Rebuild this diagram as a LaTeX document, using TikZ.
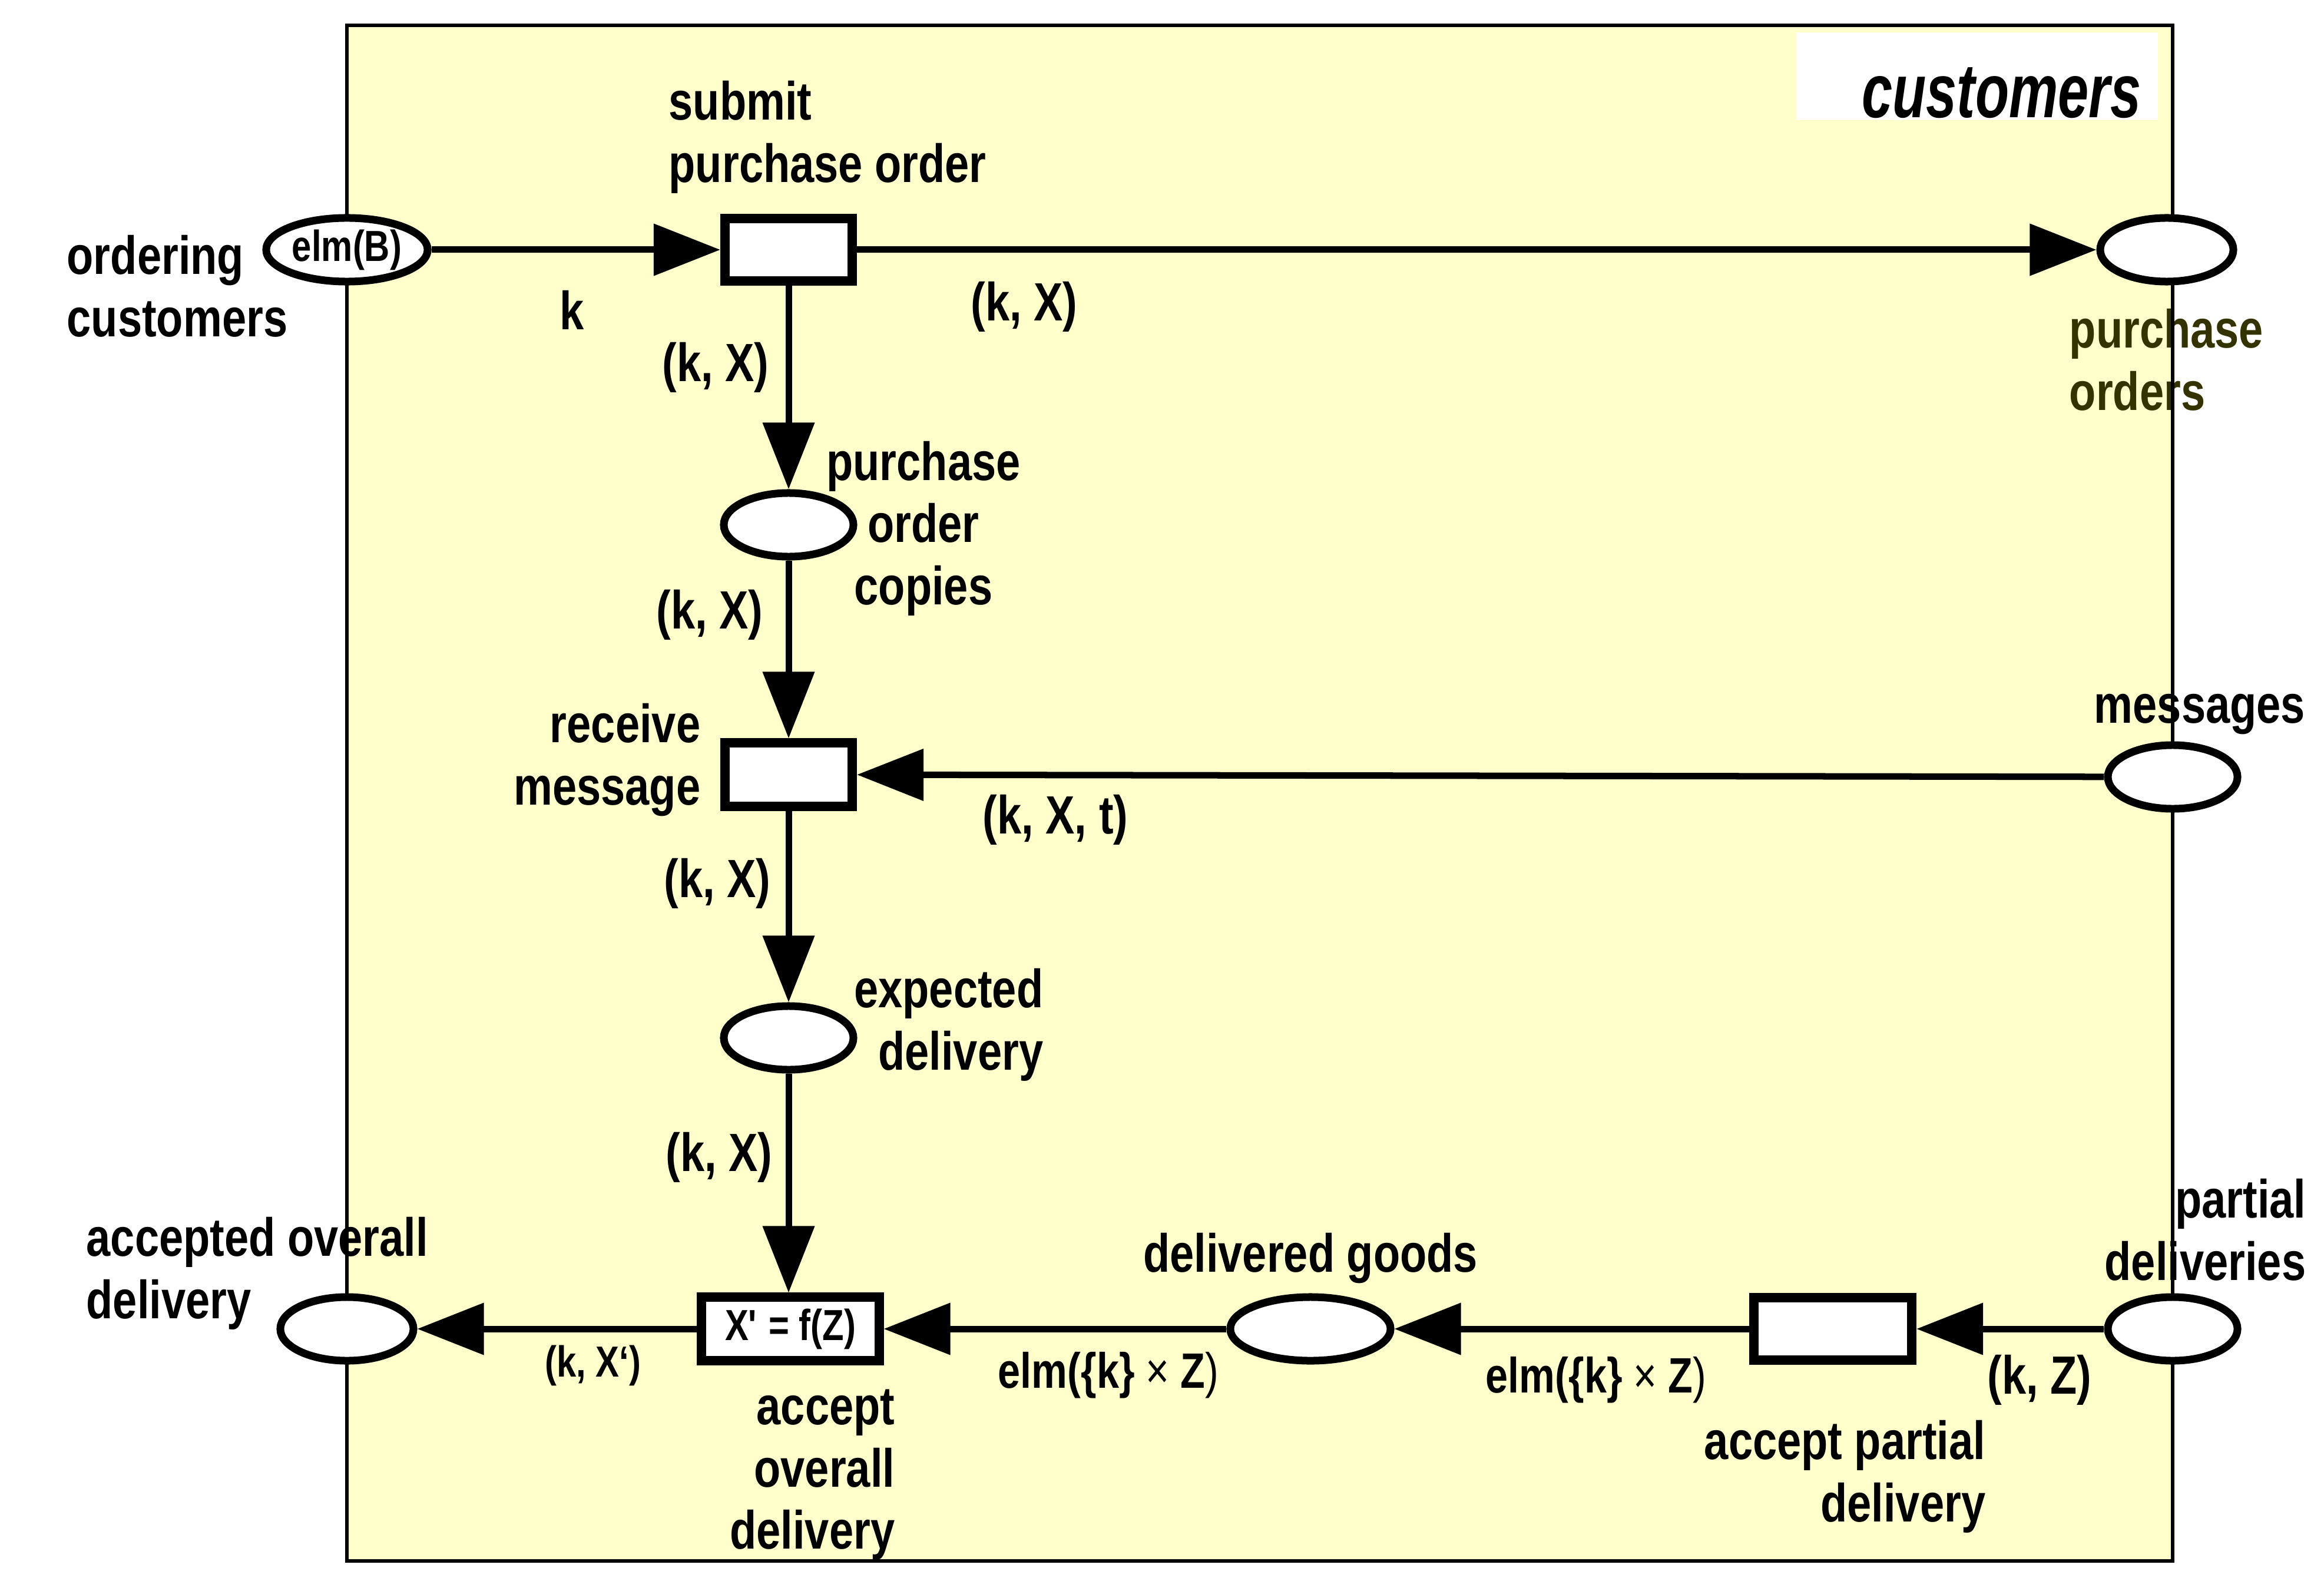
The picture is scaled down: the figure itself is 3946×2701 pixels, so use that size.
\documentclass[tikz,border=0pt]{standalone}
\usepackage{fontspec}
\setmainfont{Liberation Sans}[FakeStretch=0.81]
\newfontfamily\titlefont{Liberation Sans}[FakeStretch=0.72]
\usetikzlibrary{shapes.geometric,arrows.meta}
\definecolor{frameyellow}{HTML}{FFFFCC}
\definecolor{olivetext}{HTML}{333300}
\begin{document}
\begin{tikzpicture}[x=0.01cm,y=-0.01cm,
  lbl/.style={font=\fontsize{26}{30}\selectfont\bfseries, inner sep=0pt},
  elmlbl/.style={font=\fontsize{24}{28}\selectfont\bfseries, inner sep=0pt},
  small/.style={font=\fontsize{21}{25}\selectfont\bfseries, inner sep=0pt},
  place/.style={ellipse, draw, fill=white, line width=0.13cm, inner sep=0pt,
    minimum width=2.20cm, minimum height=1.08cm},
  trans/.style={rectangle, draw, fill=white, line width=0.16cm, inner sep=0pt,
    minimum width=2.16cm, minimum height=1.05cm},
  arc/.style={line width=0.11cm, -{Triangle[length=1.13cm,width=0.86cm]}},
]
\useasboundingbox (0,0) rectangle (3946,2701);
% frame background
\fill[frameyellow] (589,43) rectangle (3689,2650);
\fill[white] (3050,55) rectangle (3664,204);
\node[font=\titlefont\fontsize{37}{44}\selectfont\bfseries\itshape, anchor=east, inner sep=0pt]
  (title) at (3636,158) {customers};

% node labels
\node[lbl, align=left, anchor=west] (loc) at (113,486) {ordering\\customers};
\node[lbl, align=left, anchor=west] (lsub) at (1135,233) {submit\\purchase order};
\node[lbl, align=left, anchor=west, text=olivetext] (lpo) at (3513,611) {purchase\\orders};
\node[lbl, align=center] (lpoc) at (1568,897) {purchase\\order\\copies};
\node[lbl, align=right, anchor=east] (lrcv) at (1190,1290) {receive\\message};
\node[lbl] (lmsg) at (3735,1213) {messages};
\node[lbl, align=right, anchor=east] (lexp) at (1772,1740) {expected\\delivery};
\node[lbl, align=left, anchor=west] (laod) at (146,2162) {accepted overall\\delivery};
\node[lbl] (ldg) at (2225,2136) {delivered goods};
\node[lbl, align=right, anchor=east] (laov) at (1520,2504) {accept\\overall\\delivery};
\node[lbl, align=right, anchor=east] (lapd) at (3372,2507) {accept partial\\delivery};
\node[lbl, align=right, anchor=east] (lpd) at (3916,2088) {partial\\deliveries};

% frame border
\draw[line width=0.06cm] (589,43) rectangle (3689,2650);

% places
\node[place, minimum width=2.74cm] (oc) at (589,424)
  {\fontsize{21}{25}\selectfont\bfseries elm(B)};
\node[place, minimum width=2.26cm] (po) at (3679,424) {};
\node[place] (poc) at (1339,891) {};
\node[place] (msg) at (3689,1319) {};
\node[place] (exp) at (1339,1762) {};
\node[place, minimum width=2.26cm] (aod) at (589,2256) {};
\node[place, minimum width=2.72cm] (dg) at (2225,2256) {};
\node[place] (pd) at (3689,2256) {};

% transitions
\node[trans] (sub) at (1339,424) {};
\node[trans, minimum height=1.07cm] (rcv) at (1339,1315) {};
\node[trans, minimum width=3.01cm, minimum height=1.07cm,
  font=\fontsize{21}{25}\selectfont\bfseries] (aov) at (1342,2256) {X\textquotesingle{} = f(Z)};
\node[trans, minimum width=2.68cm] (apd) at (3112,2256) {};

% arcs
\draw[arc] (oc) -- (sub);
\draw[arc] (sub) -- (po);
\draw[arc] (sub) -- (poc);
\draw[arc] (poc) -- (rcv);
\draw[arc] (msg) -- (rcv);
\draw[arc] (rcv) -- (exp);
\draw[arc] (exp.south) -- (exp.south |- aov.north);
\draw[arc] (aov) -- (aod);
\draw[arc] (dg) -- (aov);
\draw[arc] (apd) -- (dg);
\draw[arc] (pd) -- (apd);

% arc labels
\node[lbl] (ak) at (971,526) {k};
\node[lbl] (akx1) at (1739,521) {(k, X)};
\node[lbl] (akx2) at (1215,624) {(k, X)};
\node[lbl] (akx3) at (1205,1044) {(k, X)};
\node[lbl] (akxt) at (1792,1392) {(k, X, t)};
\node[lbl] (akx4) at (1218,1500) {(k, X)};
\node[lbl] (akx5) at (1221,1965) {(k, X)};
\node[small] (akx6) at (1007,2318) {(k, X‘)};
\node[elmlbl] (aelm1) at (1882,2335) {elm(\{k\} {\mdseries ×} Z{\mdseries )}};
\node[elmlbl] (aelm2) at (2710,2343) {elm(\{k\} {\mdseries ×} Z{\mdseries )}};
\node[lbl] (akz) at (3463,2343) {(k, Z)};
\end{tikzpicture}
\end{document}
